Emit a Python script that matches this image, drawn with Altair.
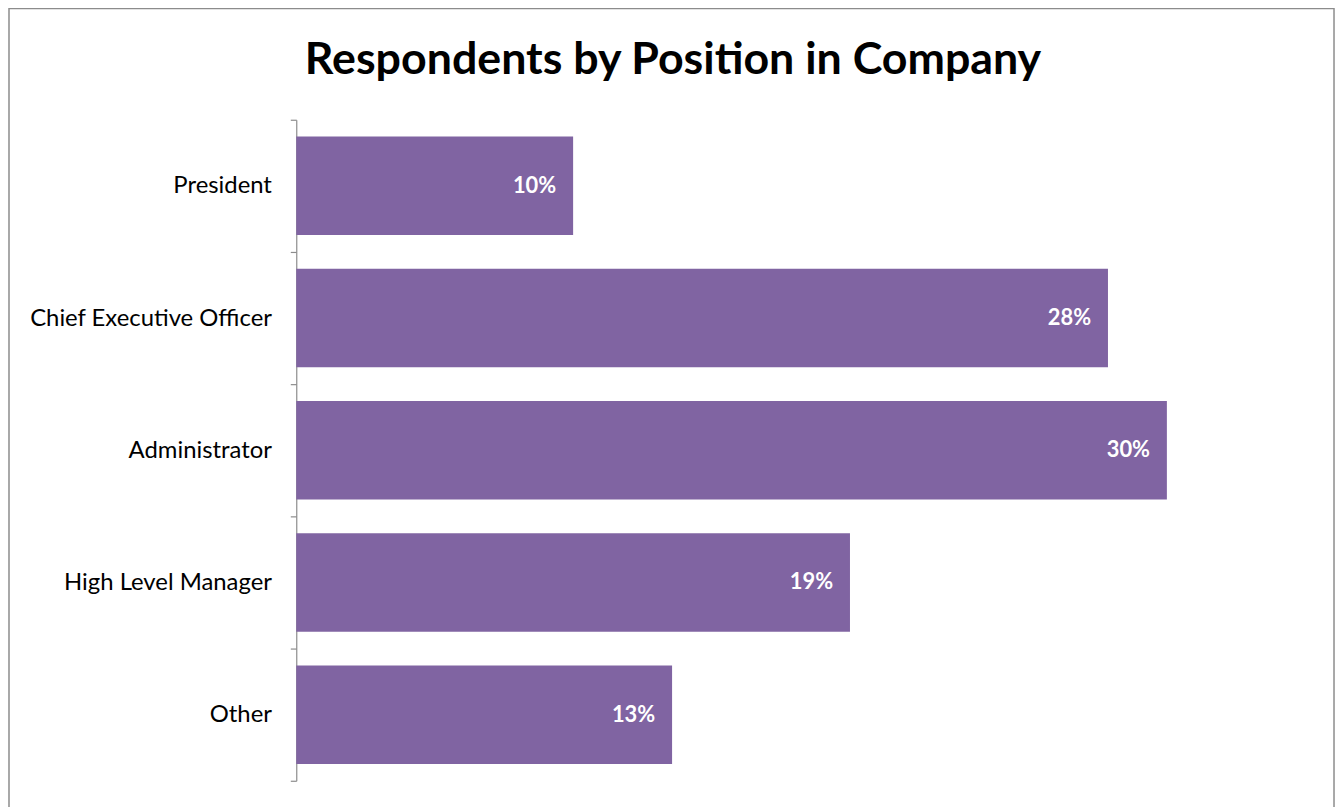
import altair as alt
import pandas as pd

positions = ["President", "Chief Executive Officer", "Administrator", "High Level Manager", "Other"]
shares = [0.0954, 0.2797, 0.3000, 0.1908, 0.1295]
title_text = ["Respondents by Position in Company"]

df = pd.DataFrame({"position": positions, "share": shares})

W, H = 1016, 665
GRAY = "#8c8c8c"

y = alt.Y(
    "position:N", sort=positions, title=None,
    scale=alt.Scale(paddingInner=0, paddingOuter=0),
    axis=alt.Axis(tickBand="extent", tickSize=6, labelPadding=19, labelFont="Lato",
                  labelFontSize=24, labelColor="black", domainColor=GRAY, tickColor=GRAY,
                  domainWidth=1.2, tickWidth=1.2, labelLimit=400),
)
x = alt.X("share:Q", scale=alt.Scale(domain=[0, 0.348]), axis=None)

base = alt.Chart(df)
bars = base.mark_bar(color="#8064A2", height=alt.RelativeBandSize(0.745)).encode(x=x, y=y)
text = base.mark_text(align="right", baseline="middle", dx=-17, font="Lato", fontSize=22,
                      fontWeight="bold", color="white").encode(
    x=x, y=y, text=alt.Text("share:Q", format=".0%"))

border = alt.Chart(alt.Data(values=[{}])).mark_rect(filled=False, stroke=GRAY, strokeWidth=1.5).encode(
    x=alt.value(-289), x2=alt.value(1044), y=alt.value(-112), y2=alt.value(H + 80))

title = alt.Chart(alt.Data(values=[{"t": t} for t in title_text])).mark_text(
    font="Lato", fontSize=45, fontWeight="bold", color="black", align="center",
    baseline="alphabetic").encode(text="t:N", x=alt.value(379), y=alt.value(-46))

chart = alt.layer(border, title, bars, text).properties(
    width=W, height=H,
    autosize=alt.AutoSizeParams(type="none"),
    padding={"left": 290, "top": 110, "right": 30, "bottom": 31},
).configure_view(stroke=None)

chart.save("out.html", embed_options={"renderer": "svg", "actions": False})
